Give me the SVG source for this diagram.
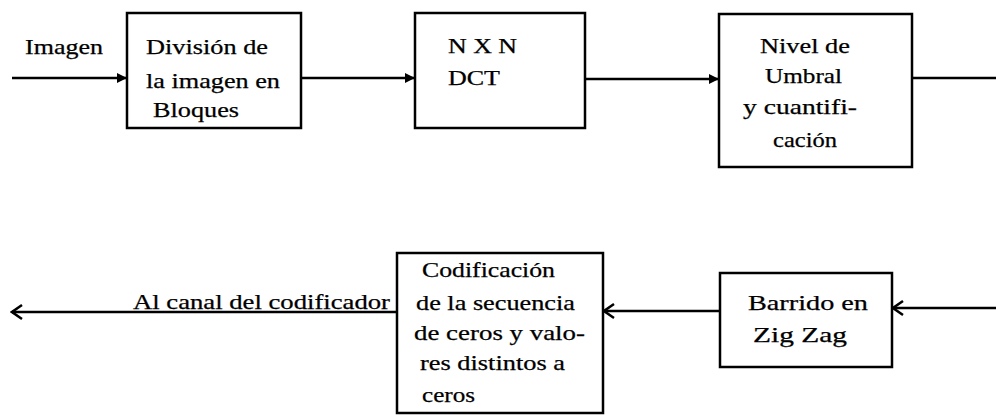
<svg xmlns="http://www.w3.org/2000/svg" width="996" height="415" viewBox="0 0 996 415">
<style>
.box{fill:#fff;stroke:#000;stroke-width:2.5}
.c{fill:none;stroke:#000;stroke-width:2.5}
.f{marker-end:url(#tri)}
.o{marker-end:url(#chev)}
</style>
<defs>
<marker id="tri" markerUnits="userSpaceOnUse" viewBox="0 0 10 10" refX="10" refY="5" markerWidth="10" markerHeight="10" orient="auto">
<path d="M0,0 L10,5 L0,10 Z" fill="#000"/>
</marker>
<marker id="chev" markerUnits="userSpaceOnUse" viewBox="-2 -2 14 18" refX="10" refY="7" markerWidth="14" markerHeight="18" orient="auto">
<path d="M0,0 L10,7 L0,14" fill="none" stroke="#000" stroke-width="2.5"/>
</marker>
</defs>
<rect width="996" height="415" fill="#fff"/>
<g font-family="Liberation Serif, Times New Roman, serif" font-size="21" fill="#000" stroke="#000" stroke-width="0.25">
<g id="label-imagen"><text x="25" y="54" textLength="78" lengthAdjust="spacingAndGlyphs">Imagen</text></g>
<g id="label-canal"><text x="133" y="309" textLength="257" lengthAdjust="spacingAndGlyphs">Al canal del codificador</text></g>
<g id="node-division">
<rect class="box" x="127" y="13" width="174" height="115"/>
<text x="146" y="54" textLength="122" lengthAdjust="spacingAndGlyphs">División de</text>
<text x="146" y="88" textLength="134" lengthAdjust="spacingAndGlyphs">la imagen en</text>
<text x="153" y="117" textLength="86" lengthAdjust="spacingAndGlyphs">Bloques</text>
</g>
<g id="node-dct">
<rect class="box" x="415" y="13" width="170" height="115"/>
<text x="448" y="53" textLength="69" lengthAdjust="spacingAndGlyphs">N X N</text>
<text x="448" y="85" textLength="52" lengthAdjust="spacingAndGlyphs">DCT</text>
</g>
<g id="node-umbral">
<rect class="box" x="719" y="14" width="193" height="153"/>
<text x="760" y="53" textLength="90" lengthAdjust="spacingAndGlyphs">Nivel de</text>
<text x="765" y="83" textLength="77" lengthAdjust="spacingAndGlyphs">Umbral</text>
<text x="743" y="114" textLength="114" lengthAdjust="spacingAndGlyphs">y cuantifi-</text>
<text x="773" y="147" textLength="64" lengthAdjust="spacingAndGlyphs">cación</text>
</g>
<g id="node-zigzag">
<rect class="box" x="720" y="273" width="172" height="94"/>
<text x="748" y="310" textLength="120" lengthAdjust="spacingAndGlyphs">Barrido en</text>
<text x="753" y="342" textLength="94" lengthAdjust="spacingAndGlyphs">Zig Zag</text>
</g>
<g id="node-codificacion">
<rect class="box" x="397" y="253" width="206" height="160"/>
<text x="422" y="277" textLength="133" lengthAdjust="spacingAndGlyphs">Codificación</text>
<text x="416" y="310" textLength="159" lengthAdjust="spacingAndGlyphs">de la secuencia</text>
<text x="414" y="340" textLength="171" lengthAdjust="spacingAndGlyphs">de ceros y valo-</text>
<text x="420" y="370" textLength="145" lengthAdjust="spacingAndGlyphs">res distintos a</text>
<text x="422" y="402" textLength="53" lengthAdjust="spacingAndGlyphs">ceros</text>
</g>
</g>
<g id="connectors">
<line class="c f" x1="12" y1="78" x2="127" y2="78"/>
<line class="c f" x1="301" y1="78" x2="415" y2="78"/>
<line class="c f" x1="585" y1="79" x2="719" y2="79"/>
<line class="c" x1="912" y1="78" x2="996" y2="78"/>
<line class="c o" x1="996" y1="308" x2="893" y2="308"/>
<line class="c o" x1="720" y1="311" x2="604" y2="311"/>
<line class="c o" x1="397" y1="312" x2="12" y2="312"/>
</g>
</svg>
